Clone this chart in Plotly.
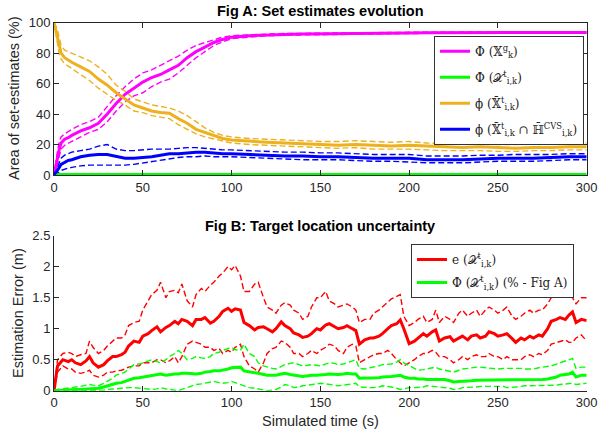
import plotly.graph_objects as go

# ---------------- Fig A data (percent) ----------------
ta = [0, 1, 2, 3, 4, 6, 8, 10,
      15, 20, 25, 30, 35, 40, 45, 50, 55, 60, 65, 70, 75, 80, 85, 90, 95, 100,
      110, 120, 130, 140, 150, 160, 170, 180, 190, 200, 210, 220, 230, 240, 250, 260, 270, 280, 290, 300]

mag_mean = [0, 6, 12, 17, 21, 23.5, 24.5, 26,
            29, 31, 34, 40, 47, 53, 57, 61, 64, 66, 69, 72, 77, 81, 84, 87, 89, 90.5,
            91.5, 92, 92.3, 92.5, 92.7, 93, 93, 93.2, 93.3, 93.3, 93.4, 93.4, 93.5, 93.5, 93.5, 93.5, 93.5, 93.5, 93.6, 93.6]
mag_up = [0, 9, 16, 22, 25, 27, 28.5, 30,
          33, 35, 38, 45, 52, 58, 63, 67, 69, 72, 75, 78, 82, 85, 87, 89, 90.5, 91.5,
          92, 92.5, 93, 93, 93.2, 93.4, 93.5, 93.5, 93.6, 93.7, 93.8, 93.8, 93.8, 93.9, 93.9, 93.9, 94, 94, 94, 94]
mag_lo = [0, 3, 8, 13, 17, 19.5, 21, 22,
          25, 28, 30, 35, 42, 48, 52, 54, 58, 61, 63, 67, 72, 77, 81, 85, 87.5, 89.5,
          90.5, 91.5, 91.8, 92, 92.2, 92.5, 92.6, 92.8, 92.8, 92.9, 93, 93, 93, 93.1, 93.1, 93.1, 93.2, 93.2, 93.2, 93.2]
grn_a = [0.3, 0.3, 0.3, 0.3, 0.3, 0.3, 0.3, 0.3,
         0.3, 0.3, 0.3, 0.3, 0.3, 0.3, 0.3, 0.3, 0.3, 0.3, 0.3, 0.3, 0.3, 0.3, 0.3, 0.3, 0.3, 0.3,
         0.3, 0.3, 0.3, 0.3, 0.3, 0.3, 0.3, 0.3, 0.3, 0.3, 0.3, 0.3, 0.3, 0.3, 0.3, 0.3, 0.3, 0.3, 0.3, 0.3]
org_mean = [100, 95, 90, 84, 80, 77, 75.5, 74,
            71, 68, 63, 59, 54, 50, 46, 44, 42, 41, 40.5, 37, 34, 30, 28, 26, 24, 23,
            22, 21.5, 21, 20.5, 20, 19.5, 20, 19.5, 19, 19.5, 19, 18.5, 18, 18.5, 18, 17.5, 18, 18, 18.5, 18.5]
org_up = [100, 98, 95, 90, 85, 82, 81, 80,
          77, 75, 71, 66, 59, 55, 50, 48, 46, 45, 44, 42, 39, 35, 31, 28, 26, 25,
          24, 23.5, 23, 22.5, 22, 22, 22.5, 22, 21.5, 22, 21, 20.5, 20.5, 20.5, 20, 20, 20.5, 20.5, 21, 21]
org_lo = [100, 92, 85, 79, 76, 73, 71.5, 70,
          66, 62, 57, 53, 49, 46, 42, 41, 39, 38, 37, 33, 30, 27, 25, 23.5, 22, 21,
          20, 19.5, 19, 18.5, 18, 17.5, 18, 17, 17, 17, 16.5, 16, 16, 16, 15.5, 15.5, 16, 16, 16.5, 16.5]
blu_mean = [0, 1.5, 3, 5, 7, 8.5, 9.5, 10,
            12, 13, 13.5, 13.5, 12, 11, 11, 11.5, 12, 13, 14, 14, 14.5, 15, 15, 14.5, 14, 14,
            13.5, 13, 12.5, 12.5, 12, 12, 11.5, 11, 11, 11, 10, 10, 10, 10.5, 11, 11, 11, 11.5, 12, 12]
blu_up = [0, 3, 6, 9, 11, 13, 14, 15,
          16, 17, 19, 20, 17, 16, 16, 16.5, 17, 17, 17, 17.5, 18, 18, 17.5, 17, 16.5, 16.5,
          16, 15.5, 15, 15, 14.5, 14.5, 14, 13.5, 13.5, 13.5, 12.5, 12.5, 12.5, 13, 13, 13.5, 13.5, 13.5, 14, 14]
blu_lo = [0, 0.5, 1, 2, 3, 4, 4.5, 5,
          6, 6.5, 6.5, 6.5, 6.5, 6.5, 7, 8, 9, 10, 11, 11.5, 12, 12, 12.5, 12, 12, 12,
          11.5, 11, 10.5, 10, 10, 10, 9.5, 9, 9, 8.5, 8, 8, 8, 8.5, 9, 9, 9, 9.5, 10, 10]

# ---------------- Fig B data (metres) ----------------
tb = [0, 2, 5, 8, 10, 12, 15, 18, 20, 22, 25, 28, 30, 33, 35, 38, 40, 42, 45, 48, 50,
      53, 55, 58, 60, 63, 65, 68, 70, 72, 75, 78, 80, 83, 85, 88, 90, 93, 95, 98, 100,
      102, 105, 107, 110, 113, 115, 118, 120, 123, 125, 128, 130, 133, 135, 138, 140,
      143, 145, 148, 150, 153, 155, 158, 160, 163, 165, 168, 170, 172, 175, 178, 180,
      183, 185, 188, 190, 193, 195, 197, 200, 203, 205, 208, 210, 213, 215, 217, 220,
      223, 225, 228, 230, 233, 235, 238, 240, 243, 245, 248, 250, 253, 255, 258, 260,
      263, 265, 268, 270, 273, 275, 278, 280, 283, 285, 288, 290, 292, 294, 297, 300]

red_mean = [0, 0.4, 0.5, 0.47, 0.5, 0.45, 0.42, 0.48, 0.55, 0.45, 0.38, 0.42, 0.48,
            0.55, 0.55, 0.58, 0.62, 0.72, 0.8, 0.78, 0.88, 0.92, 0.97, 1.03, 0.95,
            1.02, 1.05, 1.12, 1.08, 1.15, 1.12, 1.05, 1.15, 1.15, 1.18, 1.09, 1.12,
            1.2, 1.28, 1.33, 1.28, 1.32, 1.3, 1.1, 1.05, 0.98, 1.02, 1.03, 1.0,
            0.95, 1.0, 1.11, 1.05, 1.0, 0.93, 0.9, 0.86, 0.88, 0.92, 1.0, 0.98,
            1.06, 1.08, 1.03, 1.0, 1.02, 1.05, 1.0, 0.97, 0.75, 0.82, 0.85, 0.85,
            0.88, 0.92, 1.0, 1.05, 1.08, 1.14, 1.0, 0.76, 0.8, 0.85, 0.92, 0.88,
            0.95, 0.98, 0.8, 0.85, 0.87, 0.8, 0.85, 0.88, 0.82, 0.88, 0.9, 0.85,
            0.88, 0.95, 0.92, 0.88, 0.9, 0.92, 0.84, 0.78, 0.85, 0.82, 0.88, 0.85,
            0.9, 0.88, 1.0, 1.12, 1.15, 1.18, 1.15, 1.22, 1.27, 1.1, 1.15, 1.13]
red_up = [0, 0.5, 0.6, 0.62, 0.6, 0.55, 0.58, 0.6, 0.8, 0.7, 0.6, 0.65, 0.72,
          0.8, 0.85, 0.85, 0.9, 1.05, 1.1, 1.12, 1.3, 1.45, 1.55, 1.62, 1.75,
          1.5, 1.6, 1.62, 1.58, 1.72, 1.45, 1.35, 1.55, 1.65, 1.6, 1.7, 1.75,
          1.85, 1.9, 2.0, 1.95, 2.02, 1.85, 1.6, 1.6, 1.72, 1.75, 1.5, 1.35,
          1.3, 1.25, 1.38, 1.42, 1.38, 1.3, 1.25, 1.15, 1.2, 1.35, 1.5, 1.5,
          1.6, 1.45, 1.4, 1.35, 1.38, 1.4, 1.35, 1.3, 1.1, 1.15, 1.15, 1.25,
          1.3, 1.35, 1.42, 1.48, 1.52, 1.55, 1.2, 1.05, 1.1, 1.15, 1.2, 1.1,
          1.15, 1.3, 1.1, 1.2, 1.15, 1.1, 1.25, 1.3, 1.2, 1.25, 1.3, 1.2,
          1.3, 1.35, 1.3, 1.25, 1.3, 1.35, 1.2, 1.15, 1.2, 1.25, 1.3, 1.25,
          1.3, 1.3, 1.4, 1.5, 1.55, 1.6, 1.55, 1.55, 1.5, 1.4, 1.5, 1.5]
red_lo = [0, 0.3, 0.4, 0.35, 0.35, 0.3, 0.28, 0.3, 0.33, 0.25, 0.22, 0.25, 0.3,
          0.3, 0.32, 0.33, 0.35, 0.38, 0.4, 0.4, 0.45, 0.45, 0.45, 0.5, 0.5,
          0.45, 0.48, 0.55, 0.45, 0.55, 0.75, 0.8, 0.78, 0.75, 0.7, 0.7, 0.65,
          0.68, 0.6, 0.65, 0.62, 0.7, 0.75, 0.55, 0.4, 0.35, 0.3, 0.45, 0.6,
          0.68, 0.7, 0.8, 0.78, 0.7, 0.6, 0.6, 0.55, 0.6, 0.65, 0.6, 0.65,
          0.7, 0.75, 0.72, 0.65, 0.6, 0.7, 0.75, 0.72, 0.45, 0.5, 0.55, 0.58,
          0.6, 0.6, 0.65, 0.6, 0.5, 0.45, 0.4, 0.45, 0.5, 0.55, 0.6, 0.6,
          0.65, 0.62, 0.55, 0.55, 0.5, 0.45, 0.5, 0.55, 0.5, 0.55, 0.58, 0.55,
          0.55, 0.6, 0.55, 0.55, 0.5, 0.55, 0.5, 0.5, 0.5, 0.55, 0.58, 0.55,
          0.6, 0.58, 0.65, 0.75, 0.78, 0.8, 0.82, 0.78, 0.78, 0.85, 0.9, 0.8]
gb_mean = [0, 0.005, 0.01, 0.015, 0.02, 0.02, 0.02, 0.025, 0.03, 0.03, 0.04, 0.06, 0.08,
           0.1, 0.12, 0.13, 0.15, 0.18, 0.2, 0.21, 0.22, 0.24, 0.25, 0.26, 0.27,
           0.25, 0.26, 0.27, 0.27, 0.28, 0.28, 0.27, 0.27, 0.28, 0.3, 0.31, 0.32,
           0.32, 0.33, 0.35, 0.37, 0.37, 0.38, 0.32, 0.3, 0.29, 0.28, 0.26, 0.25,
           0.25, 0.25, 0.27, 0.28, 0.26, 0.25, 0.24, 0.23, 0.24, 0.25, 0.25, 0.25,
           0.26, 0.27, 0.26, 0.26, 0.27, 0.28, 0.27, 0.27, 0.2, 0.2, 0.2, 0.2,
           0.21, 0.22, 0.22, 0.23, 0.24, 0.25, 0.22, 0.2, 0.2, 0.19, 0.19, 0.18,
           0.18, 0.18, 0.18, 0.18, 0.16, 0.14, 0.15, 0.15, 0.16, 0.16, 0.17, 0.17,
           0.17, 0.18, 0.18, 0.18, 0.18, 0.18, 0.18, 0.18, 0.18, 0.17, 0.17, 0.17,
           0.18, 0.18, 0.19, 0.2, 0.22, 0.25, 0.26, 0.27, 0.3, 0.22, 0.25, 0.25]
gb_up = [0, 0.02, 0.03, 0.04, 0.05, 0.06, 0.07, 0.09, 0.1, 0.09, 0.08, 0.12, 0.15,
         0.2, 0.25, 0.28, 0.3, 0.35, 0.42, 0.43, 0.45, 0.48, 0.5, 0.47, 0.45,
         0.5, 0.55, 0.6, 0.65, 0.6, 0.5, 0.52, 0.55, 0.53, 0.52, 0.55, 0.6,
         0.62, 0.65, 0.68, 0.7, 0.66, 0.65, 0.75, 0.6, 0.55, 0.45, 0.4, 0.38,
         0.36, 0.35, 0.4, 0.42, 0.44, 0.45, 0.42, 0.4, 0.41, 0.42, 0.41, 0.4,
         0.43, 0.45, 0.44, 0.42, 0.43, 0.45, 0.48, 0.5, 0.36, 0.35, 0.37, 0.38,
         0.4, 0.42, 0.42, 0.43, 0.46, 0.5, 0.45, 0.4, 0.35, 0.33, 0.34, 0.35,
         0.37, 0.38, 0.35, 0.33, 0.31, 0.3, 0.33, 0.35, 0.36, 0.37, 0.38, 0.38,
         0.37, 0.36, 0.35, 0.35, 0.36, 0.36, 0.37, 0.37, 0.36, 0.35, 0.35, 0.35,
         0.37, 0.38, 0.39, 0.4, 0.43, 0.45, 0.47, 0.5, 0.52, 0.36, 0.38, 0.38]
gb_lo = [0, 0, 0, 0, 0, 0, 0, 0.01, 0.01, 0, 0, 0.01, 0.02,
         0.02, 0.03, 0.04, 0.05, 0.05, 0.05, 0.04, 0.03, 0.02, 0.02, 0.03, 0.05,
         0.03, 0.02, 0.01, 0, 0.02, 0.05, 0.08, 0.1, 0.11, 0.12, 0.13, 0.15,
         0.13, 0.12, 0.13, 0.15, 0.13, 0.1, 0.08, 0.05, 0.04, 0.03, 0.01, 0,
         0.01, 0.02, 0.06, 0.1, 0.08, 0.05, 0.06, 0.08, 0.09, 0.1, 0.11, 0.12,
         0.11, 0.1, 0.09, 0.08, 0.09, 0.1, 0.11, 0.12, 0.06, 0.05, 0.05, 0.05,
         0.06, 0.08, 0.07, 0.06, 0.04, 0.02, 0.03, 0.05, 0.05, 0.05, 0.06, 0.08,
         0.07, 0.06, 0.05, 0.05, 0.04, 0.02, 0.03, 0.05, 0.05, 0.06, 0.06, 0.07,
         0.07, 0.08, 0.08, 0.08, 0.07, 0.05, 0.05, 0.06, 0.07, 0.08, 0.08, 0.08,
         0.08, 0.08, 0.08, 0.08, 0.09, 0.1, 0.11, 0.12, 0.12, 0.1, 0.11, 0.12]

xticks = [0, 50, 100, 150, 200, 250, 300]
ya_ticks = [0, 20, 40, 60, 80, 100]
yb_ticks = [0, 0.5, 1, 1.5, 2, 2.5]

MAG, GRN, ORG, BLU, RED = "#FF00FF", "#00FF00", "#EDB120", "#0000FF", "#FF0000"

fig = go.Figure()

def add(x, y, color, name=None, dash=False, xa="x", ya="y", legend="legend"):
    fig.add_trace(go.Scatter(
        x=x, y=y, mode="lines", name=name, xaxis=xa, yaxis=ya,
        line=dict(color=color, width=1.4 if dash else 3, dash="6px,3px" if dash else "solid"),
        showlegend=(name is not None), legend=legend, legendgroup=name,
        hoverinfo="skip"))

# Fig A
for up, lo, c in [(mag_up, mag_lo, MAG), (org_up, org_lo, ORG), (blu_up, blu_lo, BLU)]:
    add(ta, up, c, dash=True)
    add(ta, lo, c, dash=True)
add(ta, mag_mean, MAG, "Φ (𝕏<sup>g</sup><sub>k</sub>)")
add(ta, grn_a, GRN, "Φ (𝒳<sup>t</sup><sub>i,k</sub>)")
add(ta, org_mean, ORG, "ϕ (𝕏̄<sup>t</sup><sub>i,k</sub>)")
add(ta, blu_mean, BLU, "ϕ (𝕏̄<sup>t</sup><sub>i,k</sub> ∩ ℍ̄<sup>CVS</sup><sub>i,k</sub>)")

# Fig B
for up, lo, c in [(red_up, red_lo, RED), (gb_up, gb_lo, GRN)]:
    add(tb, up, c, dash=True, xa="x2", ya="y2")
    add(tb, lo, c, dash=True, xa="x2", ya="y2")
add(tb, red_mean, RED, "e (𝒳<sup>t</sup><sub>i,k</sub>)", xa="x2", ya="y2", legend="legend2")
add(tb, gb_mean, GRN, "Φ (𝒳<sup>t</sup><sub>i,k</sub>) (% - Fig A)", xa="x2", ya="y2", legend="legend2")

W, H = 598, 436
x0, x1 = 54, 586.7
def fy(p):
    return 1 - p / H

axcol = "#262626"
tickfont = dict(family="Liberation Sans, Arial", size=13, color=axcol)
common_x = dict(range=[0, 300], tickvals=xticks, ticks="inside", ticklen=5,
                showgrid=False, zeroline=False, showline=True, linecolor=axcol,
                linewidth=1, tickcolor=axcol, tickfont=tickfont, automargin=False,
                domain=[x0 / W, x1 / W])
common_y = dict(ticks="inside", ticklen=5, showgrid=False, zeroline=False,
                showline=True, linecolor=axcol, tickcolor=axcol, tickfont=tickfont,
                automargin=False)

fig.update_layout(
    width=W, height=H, margin=dict(l=0, r=0, t=0, b=0, autoexpand=False),
    paper_bgcolor="white", plot_bgcolor="white",
    xaxis=dict(**common_x, anchor="y", mirror="ticks"),
    yaxis=dict(**common_y, range=[0, 100], tickvals=ya_ticks, mirror="ticks",
               domain=[fy(175), fy(22.7)], anchor="x"),
    xaxis2=dict(**common_x, anchor="y2"),
    yaxis2=dict(**common_y, range=[0, 2.5], tickvals=yb_ticks,
                domain=[fy(390.7), fy(235.7)], anchor="x2"),
    legend=dict(x=584 / W, y=fy(35.7), xanchor="right", yanchor="top",
                bgcolor="white", bordercolor="#333333", borderwidth=1,
                font=dict(family="DejaVu Serif", size=12, color="#222222"),
                tracegroupgap=7),
    legend2=dict(x=574 / W, y=fy(244), xanchor="right", yanchor="top",
                 bgcolor="white", bordercolor="#333333", borderwidth=1,
                 font=dict(family="DejaVu Serif", size=12, color="#222222"),
                 tracegroupgap=4),
    annotations=[
        dict(text="<b>Fig A: Set estimates evolution</b>", x=(x0 + x1) / 2 / W, y=fy(11),
             xref="paper", yref="paper", showarrow=False, xanchor="center", yanchor="middle",
             font=dict(family="Liberation Sans, Arial", size=14.5, color="black")),
        dict(text="<b>Fig B: Target location uncertainty</b>", x=(x0 + x1) / 2 / W, y=fy(226),
             xref="paper", yref="paper", showarrow=False, xanchor="center", yanchor="middle",
             font=dict(family="Liberation Sans, Arial", size=14.5, color="black")),
        dict(text="Area of set-estimates (%)", x=14 / W, y=fy(98), textangle=-90,
             xref="paper", yref="paper", showarrow=False, xanchor="center", yanchor="middle",
             font=dict(family="Liberation Sans, Arial", size=14.5, color=axcol)),
        dict(text="Estimation Error (m)", x=18 / W, y=fy(313), textangle=-90,
             xref="paper", yref="paper", showarrow=False, xanchor="center", yanchor="middle",
             font=dict(family="Liberation Sans, Arial", size=14.5, color=axcol)),
        dict(text="Simulated time (s)", x=(x0 + x1) / 2 / W, y=fy(421),
             xref="paper", yref="paper", showarrow=False, xanchor="center", yanchor="middle",
             font=dict(family="Liberation Sans, Arial", size=14.5, color=axcol)),
    ],
)

fig.write_html("out.html", config={"displayModeBar": False},
               post_script="document.body.style.margin='0';")
